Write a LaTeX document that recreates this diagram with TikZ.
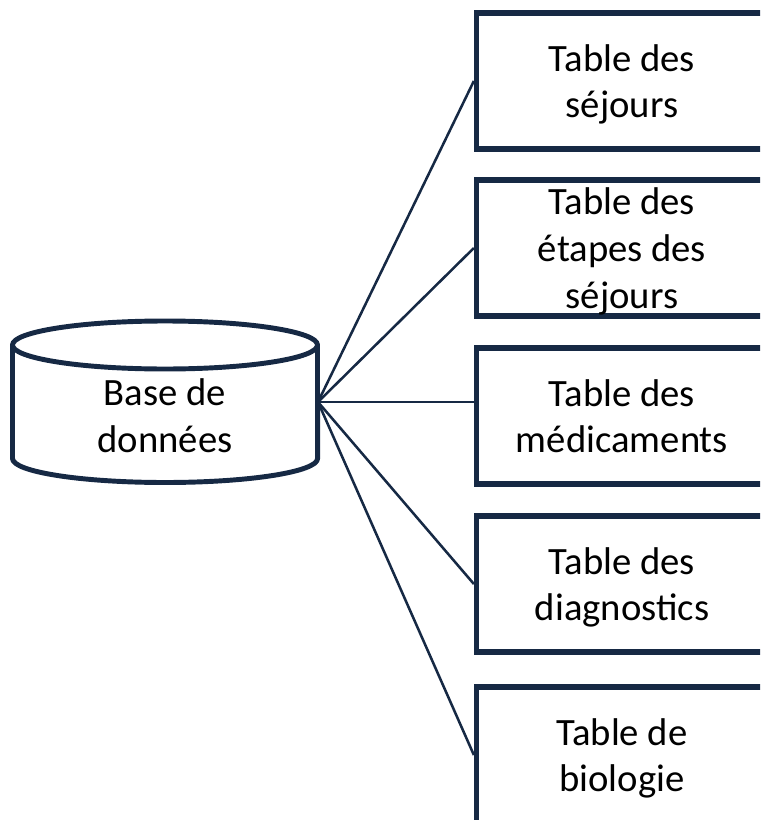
\documentclass[tikz,border=0pt]{standalone}
\usepackage{fontspec}
\setmainfont{Carlito}
\usetikzlibrary{positioning}
\definecolor{navy}{RGB}{22,41,68}
\tikzstyle{dbtext} = [align=center, font=\fontsize{29}{35}\selectfont]
\tikzstyle{dbline} = [draw=navy, line width=3.7pt, line join=round]
\tikzstyle{tablebox} = [rectangle, draw=navy, line width=4.2pt, minimum width=218pt, minimum height=102pt, align=center, text depth=0pt, font=\fontsize{29}{35}\selectfont]
\tikzstyle{link} = [draw=navy, line width=1.9pt]

\begin{document}
\begin{tikzpicture}[x=0.75pt, y=-0.75pt]
  \clip (0,0) rectangle (760,820);
  % Base de donnees (cylindre)
  \draw[dbline] (12.5,345) -- (12.5,458.5)
    arc[start angle=180, end angle=360, x radius=114.4pt, y radius=18pt] -- (317.5,345);
  \draw[dbline] (165,345) ellipse [x radius=114.4pt, y radius=18pt];
  \node[dbtext] (db) at (165,416) {Base de\\données};
  \coordinate (hub) at (318,402);

  % Tables
  \node[tablebox] (t1) at (622,81) {Table des\\séjours};
  \node[tablebox] (t2) at (622,248) {Table des\\étapes des\\séjours};
  \node[tablebox] (t3) at (622,416) {Table des\\médicaments};
  \node[tablebox] (t4) at (622,584) {Table des\\diagnostics};
  \node[tablebox] (t5) at (622,755) {Table de\\biologie};

  % Liens
  \draw[link] (hub) -- (t1.west);
  \draw[link] (hub) -- (t2.west);
  \draw[link] (hub) -- (hub -| t3.west);
  \draw[link] (hub) -- (t4.west);
  \draw[link] (hub) -- (t5.west);
\end{tikzpicture}
\end{document}
